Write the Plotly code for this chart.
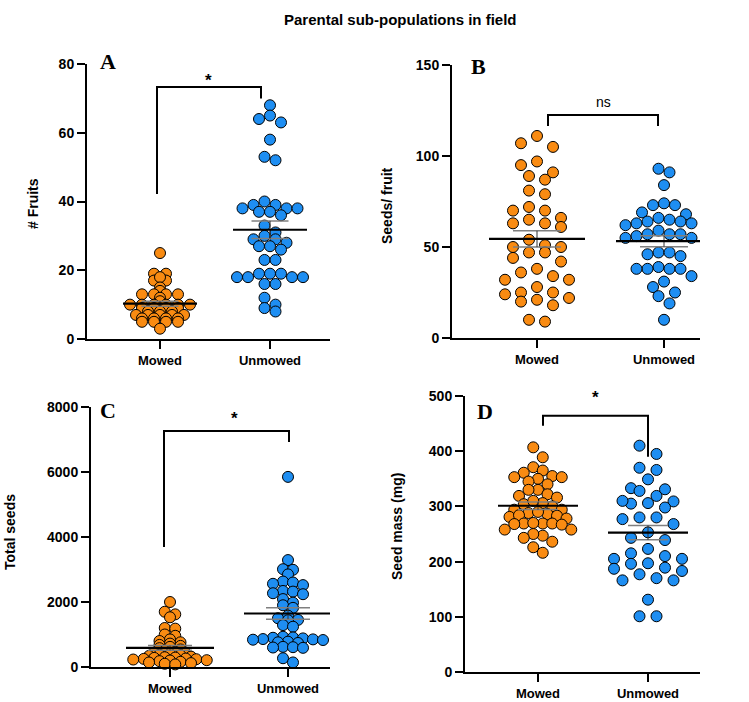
import numpy as np
import plotly.graph_objects as go

# ---- data ----
groups = ["Mowed", "Unmowed"]

fruits_mowed = [25, 19, 19, 17, 17, 18, 15, 14, 13, 13, 13, 13, 12, 11, 10, 10, 10, 10, 10, 10,
                9, 9, 9, 9, 8, 8, 8, 7, 7, 7, 7, 7, 6, 6, 6, 6, 5, 5, 5, 5, 3]
fruits_unmowed = [68, 65, 64, 63, 58, 53, 52, 40, 39, 39, 38, 38, 38, 37, 37, 36, 33, 31, 30, 29,
                  29, 28, 27, 27, 26, 23, 23, 19, 19, 19, 18, 18, 18, 18, 16, 16, 12, 10, 9, 8]

seeds_fruit_mowed = [111, 107, 105, 97, 95, 91, 89, 87, 81, 79, 72, 70, 70, 66, 65, 63, 63, 61, 54,
                     51, 50, 50, 47, 47, 44, 42, 38, 36, 34, 32, 32, 28, 25, 25, 24, 22, 20, 21, 18, 9, 10]
seeds_fruit_unmowed = [93, 91, 84, 74, 73, 73, 69, 68, 66, 65, 64, 64, 63, 63, 62, 61, 59, 57, 57, 57,
                       56, 55, 55, 53, 47, 47, 46, 45, 39, 38, 38, 38, 38, 34, 31, 28, 25, 23, 19, 10]

total_mowed = [2000, 1700, 1620, 1530, 1200, 1180, 1000, 960, 850, 800, 760, 720, 680, 650, 620, 580,
               540, 500, 470, 440, 420, 400, 380, 360, 340, 320, 300, 290, 280, 260, 250, 240, 230,
               210, 200, 180, 160, 140, 120, 100, 80]
total_unmowed = [5850, 3290, 3010, 2990, 2850, 2630, 2600, 2560, 2520, 2340, 2320, 2270, 2240, 2090,
                 1980, 1900, 1820, 1580, 1500, 1450, 1440, 1290, 1240, 930, 910, 900, 880, 860, 850,
                 840, 830, 780, 760, 740, 620, 610, 600, 590, 270, 140]

mass_mowed = [407, 389, 371, 365, 361, 355, 353, 350, 345, 353, 340, 330, 330, 322, 319, 316, 304, 300,
              306, 310, 294, 294, 288, 286, 281, 283, 290, 284, 278, 269, 269, 270, 268, 269, 267,
              247, 258, 258, 250, 236, 243, 226, 216]
mass_unmowed = [410, 395, 370, 366, 349, 333, 328, 319, 331, 305, 310, 309, 306, 298, 280, 280, 277,
                268, 253, 239, 243, 223, 210, 205, 205, 215, 196, 197, 187, 189, 183, 177, 170, 166,
                166, 131, 101, 101]

# ---- styling / layout ----
W, H = 749, 702
ORANGE = "#F98B12"
BLUE = "#1E8EF2"
DOT = 11
SANS = "Liberation Sans, Arial, sans-serif"
SERIF = "Liberation Serif, Times New Roman, serif"

# box = (x_left, x_right, y_top, y_bottom) in pixels, centers = pixel x of categories
# spread = target half-width (px) of each swarm
panels = [
    dict(letter="A", data=(fruits_mowed, fruits_unmowed), ymax=80, dtick=20, title="# Fruits",
         box=(87, 330, 64, 339), centers=(160, 270), mean_hw=37, spread=(30, 33), title_xy=(33, 204),
         letter_xy=(108, 62), sig="*", bracket=(157, 261, 42.2, 73.3, 70), sig_xy=(208, 80)),
    dict(letter="B", data=(seeds_fruit_mowed, seeds_fruit_unmowed), ymax=150, dtick=50,
         title="Seeds/ fruit", box=(452, 700, 65, 338), centers=(537, 664), mean_hw=48,
         spread=(32, 38), title_xy=(387, 206), letter_xy=(478, 66), sig="ns",
         bracket=(548, 658, 116.5, 122.5, 116.5), sig_xy=(603, 102)),
    dict(letter="C", data=(total_mowed, total_unmowed), ymax=8000, dtick=2000, title="Total seeds",
         box=(91, 330, 407, 667), centers=(170, 288), mean_hw=44, spread=(37, 35),
         title_xy=(10, 532), letter_xy=(108, 410), sig="*", bracket=(164, 289, 3692, 7262, 6923),
         sig_xy=(234, 418)),
    dict(letter="D", data=(mass_mowed, mass_unmowed), ymax=500, dtick=100, title="Seed mass (mg)",
         box=(465, 700, 396, 672), centers=(538, 648), mean_hw=40, spread=(33, 34),
         title_xy=(397, 527), letter_xy=(485, 412), sig="*", bracket=(543, 648, 446, 464, 390),
         sig_xy=(595, 397)),
]


def binned_swarm(values, px_per_unit, h, s):
    """Prism-style dot plot: points within h px of each other share a row, spread s px apart."""
    values = np.asarray(values, dtype=float)
    rows, cur, top = [], [], None
    for i in np.argsort(-values, kind="stable"):
        y = values[i] * px_per_unit
        if cur and top - y > h:
            rows.append(cur)
            cur = []
        if not cur:
            top = y
        cur.append(i)
    rows.append(cur)
    offs = np.zeros(len(values))
    for row in rows:
        k = len(row)
        pos = (np.arange(k) - (k - 1) / 2) * s
        pos = sorted(pos, key=lambda v: (abs(v), v))
        for idx, x in zip(row, pos):
            offs[idx] = x
    return offs


def fit_swarm(values, px_per_unit, half_width):
    """Choose row height / dot spacing so the swarm is about +/- half_width px wide."""
    best, best_cost = None, np.inf
    for h in np.arange(2.0, 12.01, 0.5):
        for s in np.arange(8.0, 17.01, 0.5):
            offs = binned_swarm(values, px_per_unit, h, s)
            err = abs(np.abs(offs).max() - half_width)
            cost = 2 * err + 0.15 * (12 - h) + 0.1 * abs(s - 12)
            if cost < best_cost:
                best, best_cost = offs, cost
    return best


def paper(x, y):
    return x / W, 1 - y / H


fig = go.Figure()
annotations = []
shapes = []

for n, p in enumerate(panels, start=1):
    xl, xr, yt, yb = p["box"]
    c0, c1 = p["centers"]
    spacing = c1 - c0
    xr_range = [(xl - c0) / spacing, (xr - c0) / spacing]
    px_per_unit = (yb - yt) / p["ymax"]
    xa = "x" if n == 1 else f"x{n}"
    ya = "y" if n == 1 else f"y{n}"

    for g, (vals, color) in enumerate(zip(p["data"], (ORANGE, BLUE))):
        offs = fit_swarm(vals, px_per_unit, p["spread"][g]) / spacing
        fig.add_trace(go.Scatter(
            x=g + offs, y=vals, mode="markers", xaxis=xa, yaxis=ya, cliponaxis=False,
            marker=dict(size=DOT, color=color, line=dict(width=1, color="black")),
            showlegend=False, hoverinfo="y",
        ))
        arr = np.asarray(vals, dtype=float)
        m = arr.mean()
        sem = arr.std(ddof=1) / np.sqrt(len(arr))
        hw = p["mean_hw"] / spacing
        sw = hw * 0.5
        # SEM bars (grey) and connector
        fig.add_trace(go.Scatter(
            x=[g - sw, g + sw, None, g - sw, g + sw], y=[m + sem, m + sem, None, m - sem, m - sem],
            mode="lines", xaxis=xa, yaxis=ya, line=dict(color="#7f7f7f", width=1.5),
            showlegend=False, hoverinfo="skip"))
        fig.add_trace(go.Scatter(
            x=[g, g], y=[m - sem, m + sem], mode="lines", xaxis=xa, yaxis=ya,
            line=dict(color="#333333", width=1), showlegend=False, hoverinfo="skip"))
        fig.add_trace(go.Scatter(
            x=[g - hw, g + hw], y=[m, m], mode="lines", xaxis=xa, yaxis=ya,
            line=dict(color="black", width=2.2), showlegend=False, hoverinfo="skip"))

    axis_common = dict(showline=True, linecolor="black", linewidth=2, showgrid=False,
                       zeroline=False, ticks="outside", ticklen=8, tickwidth=2, tickcolor="black",
                       automargin=False,
                       tickfont=dict(family=SANS, size=13, color="black", weight="bold"))
    fig.layout[("xaxis" if n == 1 else f"xaxis{n}")] = dict(
        domain=[xl / W, xr / W], range=xr_range, anchor=ya, tickvals=[0, 1], ticktext=groups,
        **axis_common)
    fig.layout[("yaxis" if n == 1 else f"yaxis{n}")] = dict(
        domain=[1 - yb / H, 1 - yt / H], range=[0, p["ymax"]], anchor=xa, dtick=p["dtick"],
        tick0=0, **{**axis_common, "tickfont": dict(family=SANS, size=14, color="black",
                                                     weight="bold")})

    # significance bracket
    bx0, bx1, yleft, ytop, yright = p["bracket"]
    gx0, gx1 = (bx0 - c0) / spacing, (bx1 - c0) / spacing
    shapes.append(dict(type="path", xref=xa, yref=ya,
                       path=f"M {gx0},{yleft} L {gx0},{ytop} L {gx1},{ytop} L {gx1},{yright}",
                       line=dict(color="black", width=2)))
    star = p["sig"] == "*"
    sx, sy = paper(*p["sig_xy"])
    annotations.append(dict(x=sx, y=sy, text=p["sig"],
                            font=dict(family=SANS, size=17 if star else 14, color="black",
                                      weight="bold" if star else "normal")))
    lx, ly = paper(*p["letter_xy"])
    annotations.append(dict(x=lx, y=ly, text=p["letter"],
                            font=dict(family=SERIF, size=22, color="black", weight="bold")))
    tx, ty = paper(*p["title_xy"])
    annotations.append(dict(x=tx, y=ty, text=p["title"], textangle=-90,
                            font=dict(family=SANS, size=14, color="black", weight="bold")))

hx, hy = paper(400, 20)
annotations.append(dict(x=hx, y=hy, text="Parental sub-populations in field",
                        font=dict(family=SANS, size=15, color="black", weight="bold")))
for a in annotations:
    a.update(xref="paper", yref="paper", showarrow=False, xanchor="center", yanchor="middle")

fig.update_layout(
    width=W, height=H, margin=dict(l=0, r=0, t=0, b=0, pad=0),
    paper_bgcolor="white", plot_bgcolor="white",
    annotations=annotations, shapes=shapes, showlegend=False,
)

# page body has a default 8px margin; drop it so the figure sits at the window corner
fig.write_html("out.html", config={"displayModeBar": False},
               post_script="document.body.style.margin='0';")
